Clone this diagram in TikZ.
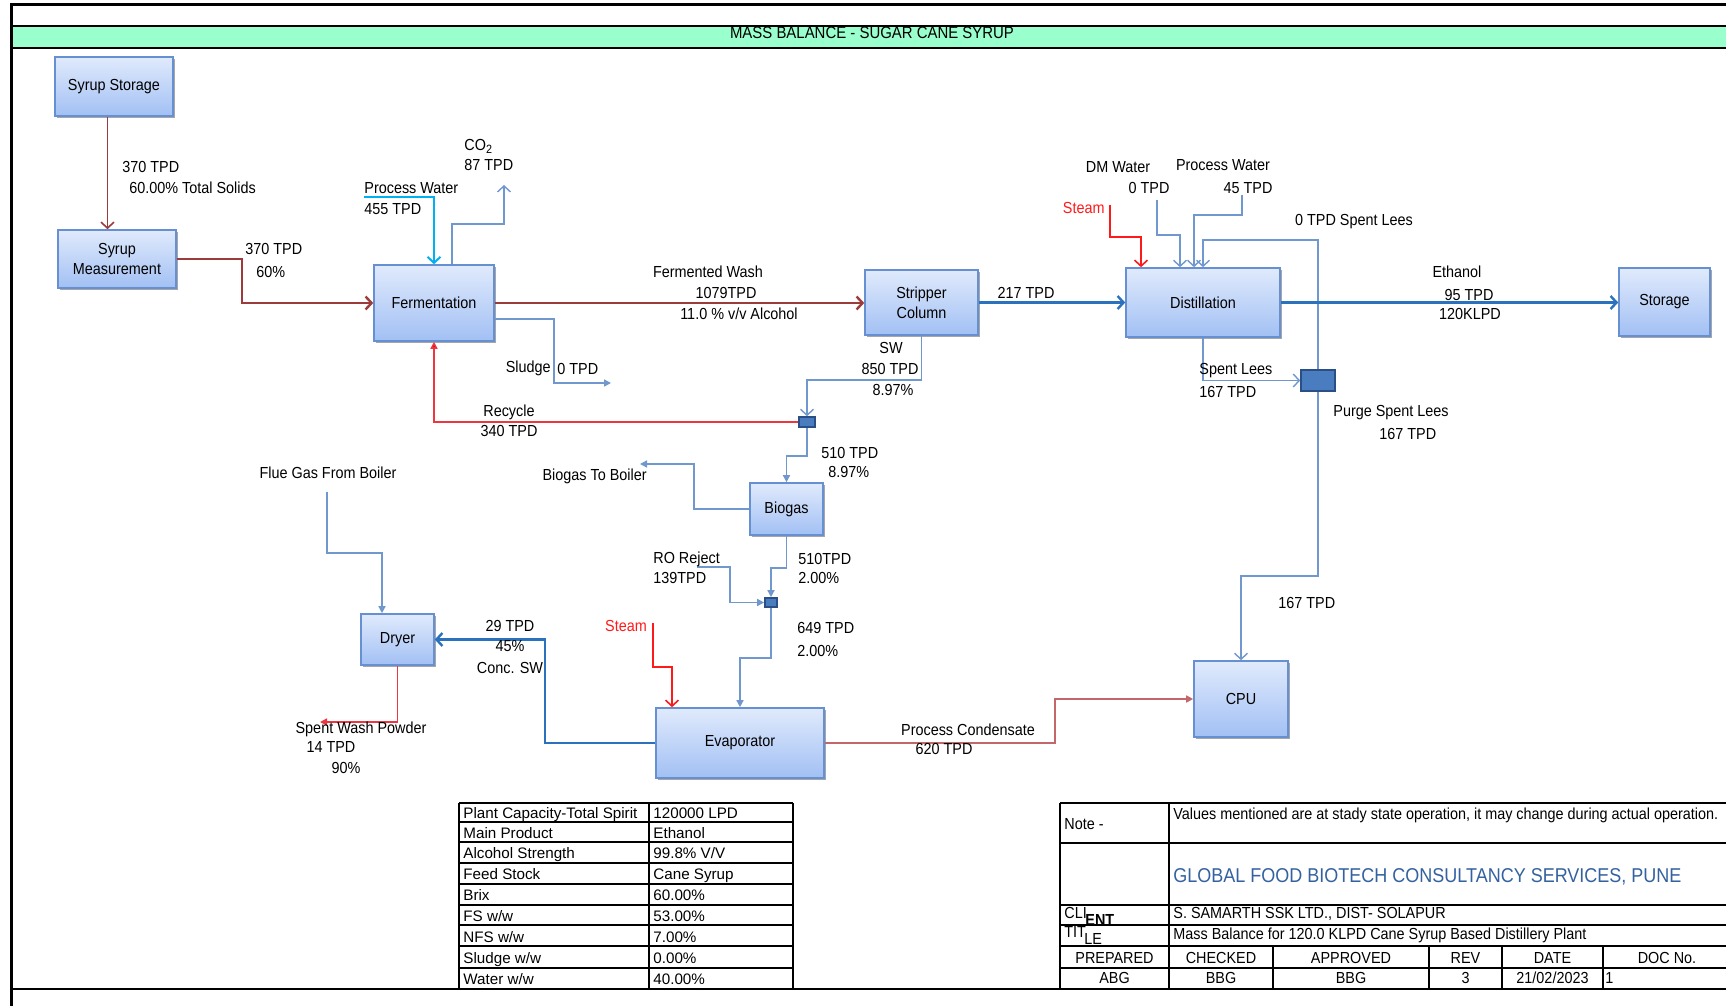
\documentclass[tikz,border=0pt]{standalone}
\usepackage{fontspec}
\setmainfont{Liberation Sans}[FakeStretch=0.9]
\newfontfamily\tabfont{Liberation Sans}
\usetikzlibrary{arrows.meta,shadows}
\definecolor{darkred}{HTML}{9B3B3A}
\definecolor{brightred}{HTML}{EE3640}
\definecolor{steamred}{HTML}{FF1A1A}
\definecolor{mainblue}{HTML}{2A72BE}
\definecolor{lightblue}{HTML}{7098CF}
\definecolor{cyanline}{HTML}{00B0F0}
\definecolor{condred}{HTML}{C4676B}
\definecolor{band}{HTML}{99FFCC}
\definecolor{boxtop}{HTML}{E0EAFC}
\definecolor{boxbot}{HTML}{A2C0F4}
\definecolor{boxborder}{HTML}{6690D2}
\definecolor{mixfill}{HTML}{4A7CC0}
\definecolor{mixborder}{HTML}{2B4F85}
\definecolor{gfblue}{HTML}{3462A0}
\newcommand{\fs}{\fontsize{8pt}{10pt}\selectfont}
\newcommand{\tfs}{\tabfont\fontsize{7.6pt}{9pt}\selectfont}
\begin{document}
\begin{tikzpicture}[x=0.5pt,y=-0.5pt,
  box/.style={draw=boxborder, line width=0.8pt, top color=boxtop, bottom color=boxbot,
    drop shadow={shadow xshift=0.8pt, shadow yshift=-1.2pt, opacity=0.35, fill=black},
    font=\fs, align=center, inner sep=0pt},
  mixer/.style={draw=mixborder, line width=0.8pt, fill=mixfill, inner sep=0pt},
  lbl/.style={font=\fs, inner sep=0pt},
  tl/.style={font=\tfs, inner sep=0pt, anchor=base west},
  rt/.style={font=\fs, inner sep=0pt},
  barb/.style={-{Straight Barb[length=3pt,width=6.5pt]}},
  tri/.style={-{Triangle[length=3.5pt,width=3.5pt]}},
  redthin/.style={draw=darkred, line width=0.8pt},
  redthick/.style={draw=darkred, line width=1.2pt},
  bluethick/.style={draw=mainblue, line width=1.2pt},
  lb/.style={draw=lightblue, line width=0.7pt},
  cyanl/.style={draw=cyanline, line width=1pt},
  steaml/.style={draw=steamred, line width=0.8pt},
  condl/.style={draw=condred, line width=0.8pt},
  tabline/.style={line width=1.1pt}
]
\useasboundingbox (0,0) rectangle (1726,1006);
\fill[white] (0,0) rectangle (1726,1006);
% frame
\fill[band] (11,26) rectangle (1726,48);
\draw[line width=1.2pt] (11,26) -- (1726,26);
\draw[line width=1.2pt] (11,48) -- (1726,48);
\draw[line width=1.5pt] (10,5) -- (1726,5);
\draw[line width=1.5pt] (11,4.3) -- (11,1006);
\draw[line width=1.3pt] (11,989) -- (1726,989);
\node[font=\fontsize{8.3pt}{10pt}\selectfont, inner sep=0pt, anchor=base] (title) at (872,38.5) {MASS BALANCE - SUGAR CANE SYRUP};

% boxes
\node[box, minimum width=59pt, minimum height=29.5pt] (stor) at (114,86.5) {Syrup Storage};
\node[box, minimum width=59pt, minimum height=29pt] (meas) at (117,259) {Syrup\\Measurement};
\node[box, minimum width=60pt, minimum height=38pt] (ferm) at (434,303) {Fermentation};
\node[box, minimum width=56.5pt, minimum height=32.5pt] (strip) at (921.5,302.5) {Stripper\\Column};
\node[box, minimum width=77pt, minimum height=34.5pt] (dist) at (1203,302.5) {Distillation};
\node[box, minimum width=45.5pt, minimum height=34pt] (store) at (1664.5,302) {Storage};
\node[box, minimum width=36.5pt, minimum height=26pt] (biogas) at (786.5,509) {Biogas};
\node[box, minimum width=36.5pt, minimum height=25.5pt] (dryer) at (397.5,639.5) {Dryer};
\node[box, minimum width=84pt, minimum height=35pt] (evap) at (740,743) {Evaporator};
\node[box, minimum width=47pt, minimum height=38pt] (cpu) at (1241,699) {CPU};
\node[mixer, minimum width=8pt, minimum height=5pt] (split) at (807,422) {};
\node[mixer, minimum width=6pt, minimum height=4.5pt] (romix) at (771,602.5) {};
\node[mixer, minimum width=17pt, minimum height=10.5pt] (purge) at (1318,380.5) {};

% helper coordinates
\coordinate (a1) at (107.5,0);
\coordinate (pw) at (364,197);
\coordinate (co2x) at (452,0);
\coordinate (co2) at (504,185);
\coordinate (sly) at (0,319);
\coordinate (sl) at (611,383);
\coordinate (btb) at (640,464);
\coordinate (ro) at (697,567);
\coordinate (st1) at (653,623);
\coordinate (st1x) at (672,0);
\coordinate (fg) at (327,492);
\coordinate (fgx) at (382,0);
\coordinate (swp) at (320,722);
\coordinate (st2) at (1110,205);
\coordinate (st2x) at (1141,0);
\coordinate (dm) at (1157,200);
\coordinate (dmx) at (1180,0);
\coordinate (pw2) at (1242,195);
\coordinate (pw2x) at (1194,0);

% connectors
\draw[redthin, barb] (stor.south -| a1) -- (meas.north -| a1);
\draw[redthick, barb] (meas.east) -- (242,259) |- (ferm.west);
\draw[cyanl, barb] (pw) -| (ferm.north);
\draw[lb, barb] (ferm.north -| co2x) -- (452,224) -| (co2);
\draw[redthick, barb] (ferm.east) -- (strip.west |- ferm.east);
\draw[lb, tri] (ferm.east |- sly) -- (554,319) |- (sl);
\draw[draw=brightred, line width=0.8pt, -{Triangle[length=3.5pt,width=3.5pt,fill=red!80!black]}] (split.west) -| (ferm.south);
\draw[bluethick, barb] (strip.east) -- (dist.west |- strip.east);
\draw[lb, barb] (strip.south) -- ++(0,44) -| (split.north);
\draw[lb, tri] (split.south) -- ++(0,28) -| (biogas.north);
\draw[lb, tri] (biogas.west) -- (694,509) |- (btb);
\draw[lb, tri] (biogas.south) -- ++(0,32) -| (romix.north);
\draw[lb, tri] (ro) -- (730,567) |- (romix.west);
\draw[lb, tri] (romix.south) -- ++(0,50) -| (evap.north);
\draw[steaml, barb] (st1) -- (653,667) -| (evap.north -| st1x);
\draw[bluethick, barb] (evap.west) -- (545,743) |- (dryer.east);
\draw[lb, tri] (fg) -- (327,553) -| (dryer.north -| fgx);
\draw[draw=brightred, line width=0.8pt, tri] (dryer.south) |- (swp);
\draw[condl, tri] (evap.east) -- (1055,743) |- (cpu.west);
\draw[lb, barb] (dist.south) |- (purge.west);
\draw[lb, barb] (purge.south) -- (1318,576) -| (cpu.north);
\draw[lb, barb] (purge.north) -- (1318,240) -| (dist.north);
\draw[steaml, barb] (st2) -- (1110,237) -| (dist.north -| st2x);
\draw[lb, barb] (dm) -- (1157,235) -| (dist.north -| dmx);
\draw[lb, barb] (pw2) -- (1242,215) -| (dist.north -| pw2x);
\draw[bluethick, barb] (dist.east) -- (store.west |- dist.east);

% labels
\node[lbl, anchor=base west] (l1) at (122,172.5) {370 TPD};
\node[lbl, anchor=base west] (l2) at (129,193.5) {60.00\% Total Solids};
\node[lbl, anchor=base west] (l3) at (245,254.5) {370 TPD};
\node[lbl, anchor=base west] (l4) at (256,277.5) {60\%};
\node[lbl, anchor=base west] (l5) at (364,193.5) {Process Water};
\node[lbl, anchor=base west] (l6) at (364,214.5) {455 TPD};
\node[lbl, anchor=base west] (l7) at (464,150.5) {CO\textsubscript{2}};
\node[lbl, anchor=base west] (l8) at (464,170.5) {87 TPD};
\node[lbl, anchor=base] (l9) at (708,277.5) {Fermented Wash};
\node[lbl, anchor=base] (l10) at (726,298.5) {1079TPD};
\node[lbl, anchor=base] (l11) at (739,319.5) {11.0 \% v/v Alcohol};
\node[lbl, anchor=base east] (l12) at (551,372.5) {Sludge};
\node[lbl, anchor=base west] (l13) at (557,374.5) {0 TPD};
\node[lbl, anchor=base] (l14) at (509,416.5) {Recycle};
\node[lbl, anchor=base] (l15) at (509,436.5) {340 TPD};
\node[lbl, anchor=base] (l16) at (1026,298.5) {217 TPD};
\node[lbl, anchor=base] (l17) at (891,353.5) {SW};
\node[lbl, anchor=base] (l18) at (890,374.5) {850 TPD};
\node[lbl, anchor=base] (l19) at (893,395.5) {8.97\%};
\node[lbl, anchor=base west] (l20) at (821,458.5) {510 TPD};
\node[lbl, anchor=base west] (l21) at (828,477.5) {8.97\%};
\node[lbl, anchor=base east] (l22) at (647,480.5) {Biogas To Boiler};
\node[lbl, anchor=base] (l23) at (328,478.5) {Flue Gas From Boiler};
\node[lbl, anchor=base west] (l24) at (653,563.5) {RO Reject};
\node[lbl, anchor=base west] (l25) at (653,583.5) {139TPD};
\node[lbl, anchor=base west] (l26) at (798,564.5) {510TPD};
\node[lbl, anchor=base west] (l27) at (798,583.5) {2.00\%};
\node[lbl, anchor=base, text=steamred] (l28) at (626,631.5) {Steam};
\node[lbl, anchor=base west] (l29) at (797,633.5) {649 TPD};
\node[lbl, anchor=base west] (l30) at (797,656.5) {2.00\%};
\node[lbl, anchor=base] (l31) at (510,631.5) {29 TPD};
\node[lbl, anchor=base] (l32) at (510,651.5) {45\%};
\node[lbl, anchor=base] (l33) at (510,673.5) {Conc. SW};
\node[lbl, anchor=base] (l34) at (361,733.5) {Spent Wash Powder};
\node[lbl, anchor=base] (l35) at (331,752.5) {14 TPD};
\node[lbl, anchor=base] (l36) at (346,773.5) {90\%};
\node[lbl, anchor=base] (l37) at (968,735.5) {Process Condensate};
\node[lbl, anchor=base] (l38) at (944,754.5) {620 TPD};
\node[lbl, anchor=base east, text=steamred] (l39) at (1105,213.5) {Steam};
\node[lbl, anchor=base] (l40) at (1118,172.5) {DM Water};
\node[lbl, anchor=base] (l41) at (1149,193.5) {0 TPD};
\node[lbl, anchor=base] (l42) at (1223,170.5) {Process Water};
\node[lbl, anchor=base] (l43) at (1248,193.5) {45 TPD};
\node[lbl, anchor=base] (l44) at (1354,225.5) {0 TPD Spent Lees};
\node[lbl, anchor=base] (l45) at (1457,277.5) {Ethanol};
\node[lbl, anchor=base] (l46) at (1469,300.5) {95 TPD};
\node[lbl, anchor=base] (l47) at (1470,319.5) {120KLPD};
\node[lbl, anchor=base west] (l48) at (1199,374.5) {Spent Lees};
\node[lbl, anchor=base west] (l49) at (1199,397.5) {167 TPD};
\node[lbl, anchor=base west] (l50) at (1333,416.5) {Purge Spent Lees};
\node[lbl, anchor=base west] (l51) at (1379,439.5) {167 TPD};
\node[lbl, anchor=base west] (l52) at (1278,608.5) {167 TPD};

% left table
\foreach \yy in {803,822,842,863,884,905,925,946,968}
  \draw[tabline] (459,\yy) -- (793,\yy);
\draw[tabline] (459,803) -- (459,989);
\draw[tabline] (649,803) -- (649,989);
\draw[tabline] (793,803) -- (793,989);
\foreach \yb/\ka/\kb [count=\i] in {818/{Plant Capacity-Total Spirit}/{120000 LPD},
  838/{Main Product}/{Ethanol}, 858/{Alcohol Strength}/{99.8\% V/V}, 879/{Feed Stock}/{Cane Syrup},
  900/{Brix}/{60.00\%}, 921/{FS w/w}/{53.00\%}, 942/{NFS w/w}/{7.00\%}, 963/{Sludge w/w}/{0.00\%},
  984/{Water w/w}/{40.00\%}}{
  \node[tl] (lta\i) at (463,\yb) {\ka};
  \node[tl] (ltb\i) at (653,\yb) {\kb};
}

% right table
\foreach \yy in {803,843,905,925,946,968}
  \draw[tabline] (1060,\yy) -- (1726,\yy);
\draw[tabline] (1060,803) -- (1060,989);
\draw[tabline] (1169,803) -- (1169,989);
\foreach \xx in {1273,1429,1502,1603}
  \draw[tabline] (\xx,946) -- (\xx,989);
\node[rt, anchor=base west] (note) at (1064,829) {Note -};
\node[rt, anchor=base west] (vals) at (1173,819) {Values mentioned are at stady state operation, it may change during actual operation.};
\node[rt, anchor=base west, text=gfblue, font=\fontsize{10pt}{12pt}\selectfont] (gf) at (1173,882) {GLOBAL FOOD BIOTECH CONSULTANCY SERVICES, PUNE};
\node[rt, anchor=base west] (cl1) at (1064,918) {CLI};
\node[rt, anchor=base west, font=\fs\bfseries] (cl2) at (1085,925) {ENT};
\node[rt, anchor=base west] (ti1) at (1064,937) {TIT};
\node[rt, anchor=base west] (ti2) at (1084,944) {LE};
\node[rt, anchor=base west] (client) at (1173,918) {S. SAMARTH SSK LTD., DIST- SOLAPUR};
\node[rt, anchor=base west] (ttl) at (1173,939) {Mass Balance for 120.0 KLPD Cane Syrup Based Distillery Plant};
\node[rt, anchor=base] (h1) at (1114.5,963) {PREPARED};
\node[rt, anchor=base] (h2) at (1221,963) {CHECKED};
\node[rt, anchor=base] (h3) at (1351,963) {APPROVED};
\node[rt, anchor=base] (h4) at (1465.5,963) {REV};
\node[rt, anchor=base] (h5) at (1552.5,963) {DATE};
\node[rt, anchor=base] (h6) at (1667,963) {DOC No.};
\node[rt, anchor=base] (v1) at (1114.5,983.5) {ABG};
\node[rt, anchor=base] (v2) at (1221,983.5) {BBG};
\node[rt, anchor=base] (v3) at (1351,983.5) {BBG};
\node[rt, anchor=base] (v4) at (1465.5,983.5) {3};
\node[rt, anchor=base] (v5) at (1552.5,983.5) {21/02/2023};
\node[rt, anchor=base west] (v6) at (1605,983.5) {1};
\end{tikzpicture}
\end{document}
